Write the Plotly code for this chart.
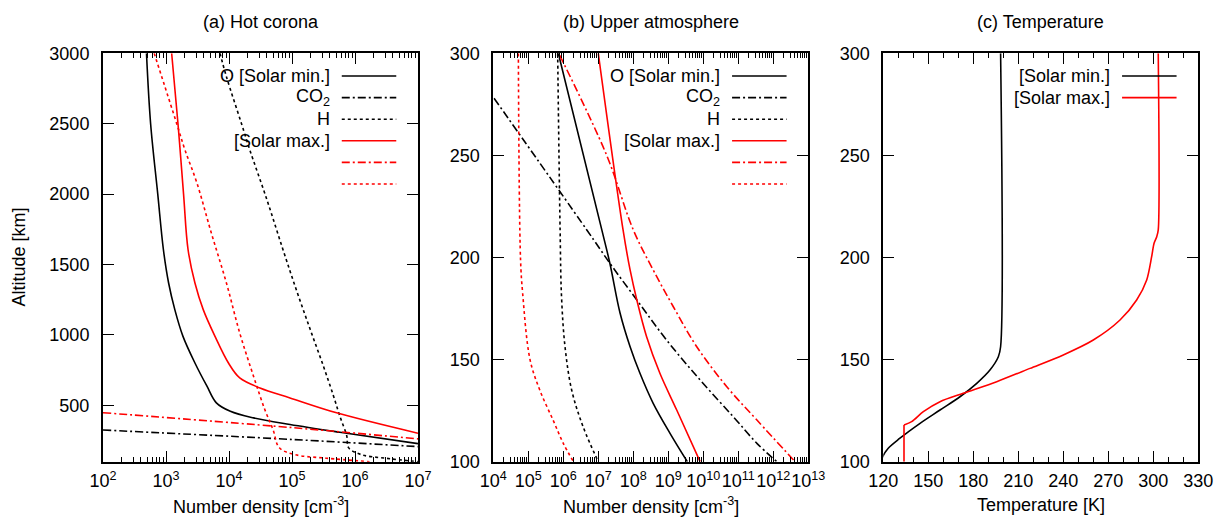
import plotly.graph_objects as go

# ---------------- Data ----------------
# (a) Hot corona: altitude [km] vs number density [cm^-3]
a_O_min_alt = [3000, 2500, 2000, 1605, 1369, 1180, 990, 801, 636, 518, 458, 411, 364, 309, 228]
a_O_min_n   = [4.9e2, 5.7e2, 7.4e2, 9.1e2, 1.1e3, 1.38e3, 1.86e3, 2.88e3, 4.47e3, 6.3e3,
               1.05e4, 2.45e4, 9.3e4, 5.75e5, 1.0e7]
a_CO2_min_alt = [325, 258, 207]
a_CO2_min_n   = [1.0e2, 1.0e5, 1.0e7]
a_H_min_alt = [3000, 2834, 2500, 2314, 1960, 1605, 1321, 1038, 777, 565, 423, 283, 200, 150, 125, 100]
a_H_min_n   = [7.2e3, 9.1e3, 1.58e4, 2.14e4, 4.0e4, 7.2e4, 1.17e5, 1.95e5, 3.16e5, 4.57e5, 5.75e5,
               7.4e5, 7.9e5, 1.26e6, 3.0e6, 1.0e7]
a_O_max_alt = [3000, 2500, 2000, 1605, 1369, 1180, 990, 801, 695, 624, 553, 447, 302]
a_O_max_n   = [1.23e3, 1.55e3, 1.9e3, 2.24e3, 2.88e3, 3.9e3, 6.0e3, 9.8e3, 1.48e4, 3.1e4,
               9.3e4, 5.1e5, 1.0e7]
a_CO2_max_alt = [448, 342, 262]
a_CO2_max_n   = [1.0e2, 1.0e5, 1.0e7]
a_H_max_alt = [3000, 2500, 2314, 2078, 1723, 1369, 1014, 707, 470, 328, 199, 150, 125, 100]
a_H_max_n   = [6.5e2, 1.48e3, 2.0e3, 3.1e3, 5.25e3, 9.1e3, 1.48e4, 2.45e4, 3.7e4, 5.0e4, 6.3e4,
               1.12e5, 3.5e5, 1.7e6]

# (b) Upper atmosphere
b_O_min_alt = [300, 213.5, 197.2, 172.7, 156.3, 143.3, 128.6, 113.9, 100]
b_O_min_n   = [7.2e5, 1.26e7, 2.14e7, 4.2e7, 8.1e7, 1.55e8, 3.7e8, 1.12e9, 3.5e9]
b_CO2_min_alt = [278, 213.5, 197.2, 179.2, 159.6, 140, 122, 109, 100]
b_CO2_min_n   = [1.05e4, 4.7e6, 2.14e7, 1.26e8, 8.9e8, 8.1e9, 7.2e10, 3.4e11, 1.26e12]
b_H_min_alt = [300, 213.5, 180.8, 156.3, 135, 117, 100]
b_H_min_n   = [6.9e5, 8.1e5, 8.9e5, 1.12e6, 1.74e6, 3.7e6, 1.0e7]
b_O_max_alt = [300, 213.5, 193.9, 179.2, 161.2, 143.3, 125.3, 100]
b_O_max_n   = [1.0e7, 5.1e7, 8.1e7, 1.26e8, 2.4e8, 5.75e8, 1.74e9, 8.1e9]
b_CO2_max_alt = [299, 250, 213.5, 193.9, 176, 156.3, 136.7, 120.4, 100]
b_CO2_max_n   = [7.9e5, 1.74e7, 1.0e8, 3.7e8, 1.38e9, 6.5e9, 4.7e10, 3.4e11, 4.2e12]
b_H_max_alt = [300, 199, 182.5, 150, 135, 120.4, 109, 100]
b_H_max_n   = [5.2e4, 6.0e4, 6.9e4, 1.12e5, 2.14e5, 5.1e5, 1.0e6, 1.95e6]

# (c) Temperature [K]
c_min_alt = [300, 156.3, 151.4, 144.9, 138.4, 131.8, 125.3, 118.8, 111.5, 106.6, 102.5, 100]
c_min_T   = [198.2, 198.2, 196.7, 191.1, 182.3, 171.1, 157.8, 144.5, 131.1, 123.3, 119.6, 118.5]
c_max_alt = [100, 118.0, 119.6, 124.5, 129.4, 133.5, 139.2, 145.7, 152.3, 159.6, 169.4, 179.2,
             189, 200.4, 207, 210.2, 213.5, 300]
c_max_T   = [133.8, 133.8, 138.9, 146.7, 157.8, 173.3, 195.6, 217.8, 240, 260, 277.8, 288.9,
             295.6, 298.9, 300.5, 302.3, 303.3, 303.3]

panel_titles = ["(a) Hot corona", "(b) Upper atmosphere", "(c) Temperature"]
legend_ab = ["O [Solar min.]", "CO<sub>2</sub>", "H", "[Solar max.]", "", ""]
legend_c = ["[Solar min.]", "[Solar max.]"]
xtitles = ["Number density [cm<sup>-3</sup>]", "Number density [cm<sup>-3</sup>]", "Temperature [K]"]

# ---------------- Styles ----------------
W, H = 1214, 519
FONT = "Liberation Sans"
FS = 18
BLACK, RED = "black", "#ff0000"
DASHDOT = "8px,3px,2px,3px"
LW = 1.6

styles_ab = [(BLACK, "solid"), (BLACK, DASHDOT), (BLACK, "dot"),
             (RED, "solid"), (RED, DASHDOT), (RED, "dot")]

def px_x(p):
    return p / W

def px_y(p):
    return (H - p) / H

dom_x = [[px_x(103), px_x(418)], [px_x(493.3), px_x(808.3)], [px_x(883.3), px_x(1198.3)]]
dom_y = [px_y(461.7), px_y(53.3)]

fig = go.Figure()

def add(x, y, color, dash, ax, shape="spline", smoothing=1.0):
    fig.add_trace(go.Scatter(
        x=x, y=y, mode="lines", showlegend=False, hoverinfo="skip",
        line=dict(color=color, width=LW, dash=dash, shape=shape, smoothing=smoothing),
        xaxis=ax[0], yaxis=ax[1]))

a_series = [(a_O_min_n, a_O_min_alt), (a_CO2_min_n, a_CO2_min_alt), (a_H_min_n, a_H_min_alt),
            (a_O_max_n, a_O_max_alt), (a_CO2_max_n, a_CO2_max_alt), (a_H_max_n, a_H_max_alt)]
b_series = [(b_O_min_n, b_O_min_alt), (b_CO2_min_n, b_CO2_min_alt), (b_H_min_n, b_H_min_alt),
            (b_O_max_n, b_O_max_alt), (b_CO2_max_n, b_CO2_max_alt), (b_H_max_n, b_H_max_alt)]

for (xs, ys), (col, dash) in zip(a_series, styles_ab):
    add(xs, ys, col, dash, ("x", "y"))
for (xs, ys), (col, dash) in zip(b_series, styles_ab):
    add(xs, ys, col, dash, ("x2", "y2"))
add(c_min_T, c_min_alt, BLACK, "solid", ("x3", "y3"))
# solar max temperature: sharp step at the bottom, smooth profile above
add(c_max_T[:2], c_max_alt[:2], RED, "solid", ("x3", "y3"), shape="linear")
add(c_max_T[1:], c_max_alt[1:], RED, "solid", ("x3", "y3"), smoothing=0.8)

common = dict(showline=True, linecolor="black", linewidth=2, mirror="allticks",
              ticks="inside", ticklen=11, tickwidth=1.3, tickcolor="black",
              showgrid=False, zeroline=False, automargin=False, tickangle=0,
              tickfont=dict(family=FONT, size=FS, color="black"))

def log_major(lo, hi):
    vals = [10.0 ** d for d in range(lo, hi + 1)]
    txt = [f"10<sup>{d}</sup>" for d in range(lo, hi + 1)]
    return vals, txt

def log_minor(lo, hi):
    return [k * 10.0 ** d for d in range(lo, hi) for k in range(2, 10)]

minor_common = dict(ticks="inside", ticklen=5, tickwidth=1, tickcolor="black", showgrid=False)

va, ta = log_major(2, 7)
vb, tb = log_major(4, 13)

fig.update_layout(
    width=W, height=H, margin=dict(l=0, r=0, t=0, b=0, autoexpand=False),
    paper_bgcolor="white", plot_bgcolor="white", showlegend=False,
    font=dict(family=FONT, size=FS, color="black"),
    xaxis=dict(common, domain=dom_x[0], anchor="y", type="log", range=[2, 7],
               tickmode="array", tickvals=va, ticktext=ta, ticklabelstandoff=2,
               minor=dict(minor_common, tickmode="array", tickvals=log_minor(2, 7))),
    yaxis=dict(common, domain=dom_y, anchor="x", range=[100, 3000], tick0=0, dtick=500,
               ticklabelstandoff=8),
    xaxis2=dict(common, domain=dom_x[1], anchor="y2", type="log", range=[4, 13],
                tickmode="array", tickvals=vb, ticktext=tb, ticklabelstandoff=2,
                minor=dict(minor_common, tickmode="array", tickvals=log_minor(4, 13))),
    yaxis2=dict(common, domain=dom_y, anchor="x2", range=[100, 300], tick0=100, dtick=50,
                ticklabelstandoff=8),
    xaxis3=dict(common, domain=dom_x[2], anchor="y3", range=[120, 330], tick0=120, dtick=30,
                ticklabelstandoff=2,
                minor=dict(minor_common, tick0=120, dtick=10)),
    yaxis3=dict(common, domain=dom_y, anchor="x3", range=[100, 300], tick0=100, dtick=50,
                ticklabelstandoff=8),
)

annotations = []
centers = [(d[0] + d[1]) / 2 for d in dom_x]
for cx, t in zip(centers, panel_titles):
    annotations.append(dict(text=t, x=cx, y=px_y(22), xref="paper", yref="paper",
                            showarrow=False, xanchor="center", yanchor="middle",
                            font=dict(family=FONT, size=FS)))
for cx, t in zip(centers, xtitles):
    annotations.append(dict(text=t, x=cx, y=px_y(505), xref="paper", yref="paper",
                            showarrow=False, xanchor="center", yanchor="middle",
                            font=dict(family=FONT, size=FS)))
annotations.append(dict(text="Altitude [km]", x=px_x(18), y=px_y(257.5), xref="paper", yref="paper",
                        showarrow=False, textangle=-90, xanchor="center", yanchor="middle",
                        font=dict(family=FONT, size=FS)))

shapes = []
def row_y(i):
    return 1 - (76 - 53.3 + 21.6 * i) / 408.4

def add_legend(ax, labels, stys):
    for i, (lab, (col, dash)) in enumerate(zip(labels, stys)):
        y = row_y(i)
        if lab:
            annotations.append(dict(text=lab, x=0.727, y=y, xref=f"{ax[0]} domain", yref=f"{ax[1]} domain",
                                    showarrow=False, xanchor="right", yanchor="middle",
                                    font=dict(family=FONT, size=FS)))
        shapes.append(dict(type="line", x0=0.758, x1=0.931, y0=y, y1=y,
                           xref=f"{ax[0]} domain", yref=f"{ax[1]} domain",
                           line=dict(color=col, width=LW, dash=dash)))

add_legend(("x", "y"), legend_ab, styles_ab)
add_legend(("x2", "y2"), legend_ab, styles_ab)
add_legend(("x3", "y3"), legend_c, [(BLACK, "solid"), (RED, "solid")])

fig.update_layout(annotations=annotations, shapes=shapes)
fig.write_html("out.html", config={"displayModeBar": False},
               post_script="document.body.style.margin='0';document.body.style.overflow='hidden';")
